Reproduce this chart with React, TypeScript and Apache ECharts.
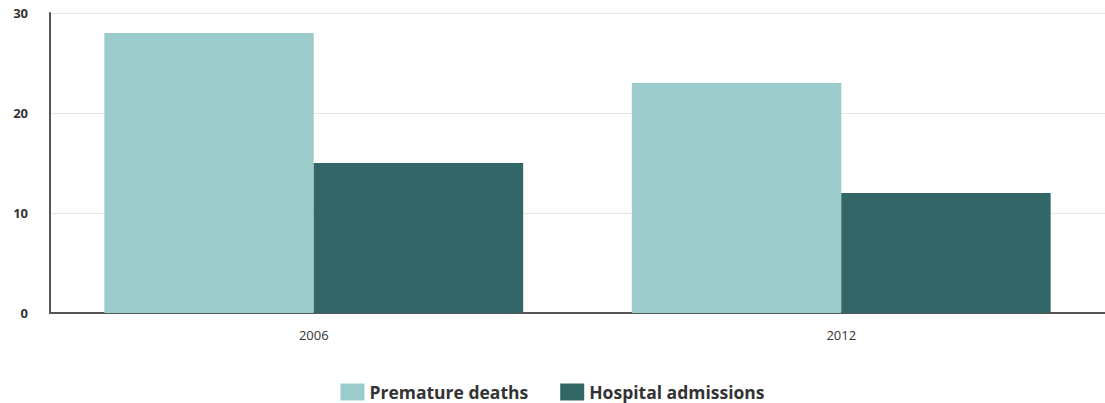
import React, { useEffect, useRef } from "react";
import * as echarts from "echarts";

const categories = ["2006", "2012"];
const prematureDeaths = [28, 23];
const hospitalAdmissions = [15, 12];
const seriesNames = ["Premature deaths", "Hospital admissions"];

export default function App() {
  const ref = useRef<HTMLDivElement>(null);
  useEffect(() => {
    if (!ref.current) return;
    const chart = echarts.init(ref.current, undefined, { renderer: "svg" });
    chart.setOption({
      animation: false,
      grid: { left: 50, right: -3, top: 13, bottom: 90 },
      legend: {
        data: seriesNames,
        top: 377,
        left: "center",
        itemWidth: 24,
        itemHeight: 17,
        itemGap: 32,
        icon: "rect",
        textStyle: { fontFamily: "Open Sans", fontWeight: "bold", fontSize: 17.5, lineHeight: 20, color: "#333" },
      },
      xAxis: {
        type: "category",
        data: categories,
        axisLine: { lineStyle: { color: "#555", width: 2 } },
        axisTick: { alignWithLabel: true, length: 9, lineStyle: { color: "#555" } },
        axisLabel: { fontFamily: "Open Sans", fontSize: 13, color: "#333", margin: 15 },
      },
      yAxis: {
        type: "value",
        min: 0,
        max: 30,
        interval: 10,
        axisLine: { show: true, lineStyle: { color: "#555", width: 2 } },
        axisTick: { show: false },
        splitLine: { lineStyle: { color: "#e6e6e6", width: 1 } },
        axisLabel: { fontFamily: "Open Sans", fontSize: 13, fontWeight: "bold", color: "#333", margin: 22 },
      },
      series: [
        {
          name: seriesNames[0],
          type: "bar",
          data: prematureDeaths,
          barGap: "0%",
          barCategoryGap: "20.6%",
          itemStyle: { color: "#9ccbcb" },
        },
        {
          name: seriesNames[1],
          type: "bar",
          data: hospitalAdmissions,
          barGap: "0%",
          barCategoryGap: "20.6%",
          itemStyle: { color: "#336666" },
        },
      ],
    });
    return () => chart.dispose();
  }, []);
  return (
    <div
      ref={ref}
      style={{ position: "fixed", left: 0, top: 0, width: 1105, height: 403, background: "#fff" }}
    />
  );
}
